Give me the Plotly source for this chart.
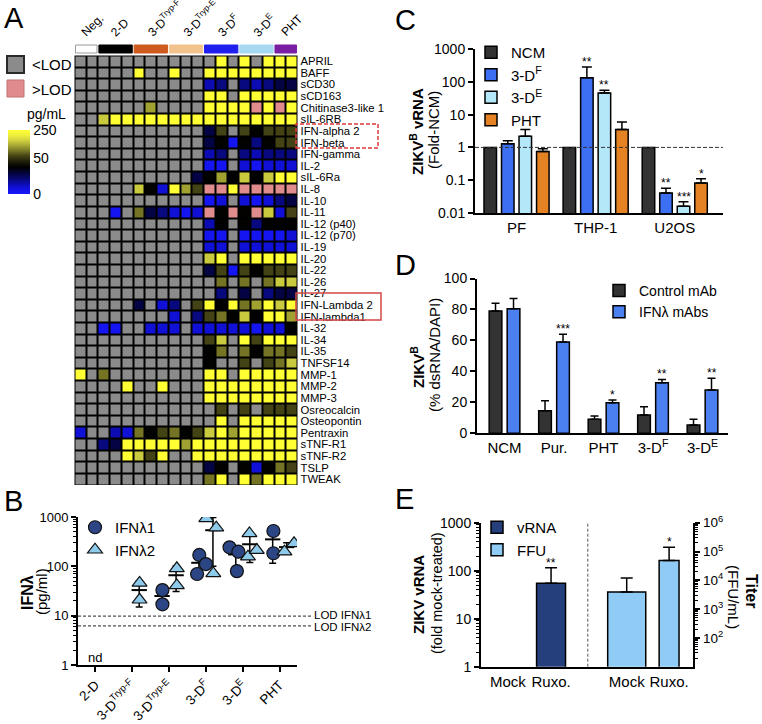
import numpy as np
import plotly.graph_objects as go

W, H = 762, 724
FONT = "Liberation Sans, Arial, Helvetica, sans-serif"


def fx(px):
    return px / W


def fy(py):
    return 1 - py / H


# ---------------- Panel A : cytokine heat map ----------------
heat_rows = ["APRIL", "BAFF", "sCD30", "sCD163", "Chitinase3-like 1", "sIL-6RB",
             "IFN-alpha 2", "IFN-beta", "IFN-gamma", "IL-2", "sIL-6Ra", "IL-8",
             "IL-10", "IL-11", "IL-12 (p40)", "IL-12 (p70)", "IL-19", "IL-20",
             "IL-22", "IL-26", "IL-27", "IFN-Lambda 2", "IFN-lambda1", "IL-32",
             "IL-34", "IL-35", "TNFSF14", "MMP-1", "MMP-2", "MMP-3", "Osreocalcin",
             "Osteopontin", "Pentraxin", "sTNF-R1", "sTNF-R2", "TSLP", "TWEAK"]
# L = <LOD, H = >LOD, other letters = concentration level (see level_pgml)
heat_codes = [
    "LLLLLLLLLLL" + "LYLYLYYY",
    "LLLLLYLLYLL" + "YYYYYYYY",
    "LLLLLLLLLLL" + "cnLncnmm",
    "LLLLLLLLLLL" + "YYLYYYYY",
    "LLLLLLuLLLL" + "YYYYHYHY",
    "LLyYYYYYYYY" + "YYYYYYYY",
    "LLLLLLLLLLL" + "mdLdkddd",
    "LLLLLLLLLLL" + "mkBknkdd",
    "LLLLLLLLLLL" + "cnLncnnn",
    "LLLLLLLLLLL" + "BBLbBbbb",
    "LLLLLLLLLLm" + "kukykyYY",
    "LLLLLykbYud" + "HHYHHHHH",
    "LLLLLLLLLLL" + "BbLbBbnm",
    "LLLBLomnbBb" + "HkHkHybd",
    "LLLLLLLLLLL" + "ckLknkkk",
    "LLLLLLLLLLL" + "BBLBBBBb",
    "LLLLLLLLLLL" + "bbLbbbbb",
    "LLLLLLLLLLL" + "yYLYYYYY",
    "LLLLLLLLLLL" + "mdBdkddd",
    "LLLLLLLLLLL" + "LoLoLoyy",
    "LLLLLLLLLLL" + "LnLmLnmm",
    "LLLLLmLbnLd" + "YkYouYyY",
    "LLLLLLLLbLn" + "dokykYYu",
    "LLBBLLbbbLb" + "bbbbBbbk",
    "LLLLLLLLLLL" + "dyLYdYYY",
    "LLLLLLLLLLL" + "koLokood",
    "LLLLLLLLLLL" + "kLLdLdoy",
    "YLoLLLLLLLL" + "YYLYYYYY",
    "LLLLYLLYLLL" + "YYYYYYYY",
    "LLLLLLLLLLL" + "YYYYYYYY",
    "LLLLLLLLLLL" + "LdLdLddd",
    "LLLLLLLLLLL" + "LYLYYYYY",
    "bLLcbokdokd" + "yYuYYYYY",
    "LLnmYYYYYuY" + "YYYYYYYY",
    "LLLLYydYLLY" + "YYYYYYYY",
    "LLLLLLLLLLL" + "mkLkbkod",
    "LLLLLLLLLLL" + "oYLYoYYY",
]
level_pgml = {"B": 3, "b": 9, "c": 14, "n": 20, "m": 28, "k": 38,
              "d": 65, "o": 100, "u": 135, "y": 170, "Y": 250}
heat_groups = ["Neg.", "2-D", "3-D<sup>Tryp-F</sup>", "3-D<sup>Tryp-E</sup>",
               "3-D<sup>F</sup>", "3-D<sup>E</sup>", "PHT"]
heat_group_sizes = [2, 3, 3, 3, 3, 3, 2]
cbar_ticks_pgml = [0, 50, 250]

# ---------------- Panel B : IFN-lambda ----------------
b_categories = ["2-D", "3-D<sup>Tryp-F</sup>", "3-D<sup>Tryp-E</sup>",
                "3-D<sup>F</sup>", "3-D<sup>E</sup>", "PHT"]
l1_cat = [2, 2, 3, 3, 3, 4, 4, 4, 5, 5]
l1_vals = [33, 17, 70, 170, 111, 243, 198, 80, 520, 184]
l2_cat = [1, 1, 2, 2, 3, 3, 3, 4, 4, 4, 5, 5]
l2_vals = [46, 21, 91, 41, 940, 608, 72, 466, 157, 214, 198, 293]
l1_sum_cat = [2, 3, 4, 5]
l1_mean = [25, 118, 174, 352]
l1_sd = [11, 50, 85, 237]
l2_sum_cat = [1, 2, 3, 4, 5]
l2_mean = [33, 66, 540, 280, 245]
l2_sd = [18, 35, 440, 160, 55]
lod_values = [9.8, 6.2]
lod_labels = ["LOD IFNλ1", "LOD IFNλ2"]
# horizontal scatter of the points inside each category (layout only)
l1_jitter = [-0.18, -0.18, -0.24, -0.18, 0.0, -0.36, -0.12, -0.16, -0.17, -0.17]
l2_jitter = [0.2, 0.2, 0.21, 0.21, 0.01, 0.28, 0.2, 0.18, 0.14, 0.38, 0.13, 0.39]

# ---------------- Panel C : ZIKV vRNA fold ----------------
c_groups = ["PF", "THP-1", "U2OS"]
c_series = ["NCM", "3-D<sup>F</sup>", "3-D<sup>E</sup>", "PHT"]
c_ncm = [1, 1, 1]
c_3df = [1.3, 133, 0.041]
c_3de = [2.2, 45.5, 0.016]
c_pht = [0.75, 3.5, 0.082]
c_3df_err = [0.3, 150, 0.016]
c_3de_err = [1.3, 9.5, 0.006]
c_pht_err = [0.16, 2.4, 0.028]
c_3df_sig = ["", "**", "**"]
c_3de_sig = ["", "**", "***"]
c_pht_sig = ["", "", "*"]

# ---------------- Panel D : IFN-lambda blocking ----------------
d_groups = ["NCM", "Pur.", "PHT", "3-D<sup>F</sup>", "3-D<sup>E</sup>"]
d_series = ["Control mAb", "IFNλ mAbs"]
d_ctrl = [79, 14.6, 9.0, 11.8, 5.4]
d_ctrl_err = [5, 6.5, 2.2, 5.4, 3.6]
d_ifn = [80.5, 59, 19.8, 32.7, 28]
d_ifn_err = [6.5, 5, 1.7, 2.1, 7.5]
d_sig = ["", "***", "*", "**", "**"]

# ---------------- Panel E : Ruxolitinib ----------------
e_labels = ["Mock", "Ruxo."]
e_vrna = [None, 55]
e_vrna_err = [0, 60]
e_ffu = [3900, 49000]
e_ffu_err = [8000, 92000]
e_vrna_sig = ["", "**"]
e_ffu_sig = ["", "*"]

# ---------------- styles ----------------
GREY = "#8b8b8b"
PINK = "#e08c8c"
group_bar_colors = ["#ffffff", "#000000", "#cf5a1f", "#f2c38d", "#2020ee", "#a6d8f2", "#7a1ea4"]
heat_scale = [
    [0.00, "#1818ff"], [0.10, "#1010d8"], [0.16, "#0c0cb0"], [0.23, "#08087a"],
    [0.32, "#040440"], [0.42, "#000000"], [0.50, "#1c1c0a"], [0.60, "#464616"],
    [0.68, "#7a7a26"], [0.76, "#a8a834"], [0.84, "#d2d240"], [0.92, "#f0f03c"],
    [1.00, "#ffff33"],
]
C_COLORS = ["#333333", "#3d6ff2", "#b4e8f8", "#e58224"]
D_COLORS = ["#333333", "#4a80f0"]
E_COLORS = ["#243f7c", "#8fcbf4"]
L1_COLOR = "#2c4584"
L2_COLOR = "#8ecbea"


def pg_to_t(v):
    return float(np.interp(v, [0, 50, 250], [0, 0.56, 1]))


def minor_log(lo, hi):
    vals = []
    for d in range(lo, hi):
        for m in range(2, 10):
            vals.append(m * 10 ** d)
    return vals


fig = go.Figure()

# ---------- A ----------
n_rows = len(heat_rows)
n_cols = sum(heat_group_sizes)
status_z, value_z = [], []
for code in heat_codes:
    srow, vrow = [], []
    for ch in code:
        if ch == "L":
            srow.append(0)
            vrow.append(None)
        elif ch == "H":
            srow.append(1)
            vrow.append(None)
        else:
            srow.append(None)
            vrow.append(pg_to_t(level_pgml[ch]))
    status_z.append(srow)
    value_z.append(vrow)

cols = list(range(n_cols))
rows = list(range(n_rows))
fig.add_trace(go.Heatmap(
    x=cols, y=rows, z=status_z, xaxis="x", yaxis="y",
    colorscale=[[0, GREY], [0.5, GREY], [0.5, PINK], [1, PINK]],
    zmin=0, zmax=1, showscale=False, xgap=2, ygap=2, hoverinfo="skip"))
fig.add_trace(go.Heatmap(
    x=cols, y=rows, z=value_z, xaxis="x", yaxis="y",
    colorscale=heat_scale, zmin=0, zmax=1, xgap=2, ygap=2, hoverinfo="skip",
    colorbar=dict(x=fx(8), xanchor="left", y=fy(162), yanchor="middle",
                  len=64, lenmode="pixels", thickness=22, thicknessmode="pixels",
                  xpad=0, ypad=0, outlinewidth=0, ticks="",
                  tickvals=[pg_to_t(v) for v in cbar_ticks_pgml],
                  ticktext=[str(v) for v in cbar_ticks_pgml],
                  tickfont=dict(size=14, color="black", family=FONT))))

shapes = []
annotations = []
# black grid background
shapes.append(dict(type="rect", xref="x", yref="y", x0=-0.55, x1=n_cols - 0.45,
                   y0=-0.55, y1=n_rows - 0.45, fillcolor="black",
                   line=dict(width=0), layer="below"))
# group colour bars + labels
start = 0
for name, size, col in zip(heat_groups, heat_group_sizes, group_bar_colors):
    x0 = start - 0.5 + 0.08
    x1 = start + size - 0.5 - 0.08
    shapes.append(dict(type="rect", xref="x", yref="paper", x0=x0, x1=x1,
                       y0=fy(53), y1=fy(45), fillcolor=col,
                       line=dict(color="#9a9a9a" if col == "#ffffff" else col, width=1)))
    center = start + (size - 1) / 2
    annotations.append(dict(text=name, xref="x", yref="paper", x=center - 0.85,
                            y=fy(42), xanchor="left", yanchor="bottom", textangle=-45,
                            showarrow=False, font=dict(size=12)))
    start += size

# red boxes around IFN rows
shapes.append(dict(type="rect", xref="paper", yref="paper", x0=fx(296), x1=fx(378),
                   y0=fy(148), y1=fy(124), line=dict(color="#e03a3a", width=1.5, dash="4px,2px")))
shapes.append(dict(type="rect", xref="paper", yref="paper", x0=fx(296), x1=fx(381),
                   y0=fy(320), y1=fy(293), line=dict(color="#d24848", width=1.5)))

# A legend
shapes.append(dict(type="rect", xref="paper", yref="paper", x0=fx(7), x1=fx(24),
                   y0=fy(73), y1=fy(56), fillcolor=GREY, line=dict(color="#2a2a2a", width=2)))
shapes.append(dict(type="rect", xref="paper", yref="paper", x0=fx(7), x1=fx(24),
                   y0=fy(97), y1=fy(80), fillcolor=PINK, line=dict(color="#c27070", width=1)))
annotations += [
    dict(text="&lt;LOD", xref="paper", yref="paper", x=fx(30), y=fy(65),
         xanchor="left", yanchor="middle", showarrow=False, font=dict(size=15)),
    dict(text="&gt;LOD", xref="paper", yref="paper", x=fx(30), y=fy(89),
         xanchor="left", yanchor="middle", showarrow=False, font=dict(size=15)),
    dict(text="pg/mL", xref="paper", yref="paper", x=fx(46), y=fy(114),
         xanchor="center", yanchor="middle", showarrow=False, font=dict(size=14)),
]

# ---------- B ----------
fig.add_trace(go.Scatter(
    x=[c - 0.19 for c in l1_sum_cat], y=l1_mean, xaxis="x2", yaxis="y2", mode="markers",
    showlegend=False, hoverinfo="skip",
    marker=dict(symbol="line-ew", size=11, line=dict(color="black", width=2)),
    error_y=dict(type="data", array=l1_sd, color="black", thickness=1.5, width=3.5)))
fig.add_trace(go.Scatter(
    x=[c + 0.19 for c in l2_sum_cat], y=l2_mean, xaxis="x2", yaxis="y2", mode="markers",
    showlegend=False, hoverinfo="skip",
    marker=dict(symbol="line-ew", size=11, line=dict(color="black", width=2)),
    error_y=dict(type="data", array=l2_sd, color="black", thickness=1.5, width=3.5)))
fig.add_trace(go.Scatter(
    x=[c + j for c, j in zip(l1_cat, l1_jitter)], y=l1_vals, xaxis="x2", yaxis="y2",
    mode="markers", name="IFNλ1", legend="legend",
    marker=dict(symbol="circle", size=13, color=L1_COLOR, line=dict(color="#111111", width=1.2))))
fig.add_trace(go.Scatter(
    x=[c + j for c, j in zip(l2_cat, l2_jitter)], y=l2_vals, xaxis="x2", yaxis="y2",
    mode="markers", name="IFNλ2", legend="legend",
    marker=dict(symbol="triangle-up", size=13, color=L2_COLOR, line=dict(color="#111111", width=1.2))))

for v, lab, ys in zip(lod_values, lod_labels, [1.5, -1.5]):
    shapes.append(dict(type="line", xref="paper", yref="y2", x0=fx(78), x1=fx(311),
                       y0=v, y1=v, line=dict(color="#222222", width=1, dash="3px,2px")))
    annotations.append(dict(text=lab, xref="paper", yref="y2", x=fx(312), y=np.log10(v),
                            xanchor="left", yanchor="middle", showarrow=False, yshift=ys,
                            font=dict(size=11.5)))
annotations.append(dict(text="nd", xref="x2", yref="paper", x=0, y=fy(657),
                        xanchor="center", yanchor="middle", showarrow=False, font=dict(size=13)))

# ---------- C ----------
c_step = 17.5 / 79
c_width = 12.5 / 79
c_vals = [c_ncm, c_3df, c_3de, c_pht]
c_errs = [None, c_3df_err, c_3de_err, c_pht_err]
c_sigs = [None, c_3df_sig, c_3de_sig, c_pht_sig]
for k, (name, vals, errs, sigs, col) in enumerate(zip(c_series, c_vals, c_errs, c_sigs, C_COLORS)):
    xs = [i + (k - 1.5) * c_step for i in range(len(c_groups))]
    tr = dict(x=xs, y=vals, xaxis="x3", yaxis="y3", name=name, legend="legend2",
              width=c_width, marker=dict(color=col, line=dict(color="black", width=1.5)),
              hoverinfo="skip")
    if errs is not None:
        tr["error_y"] = dict(type="data", array=errs, arrayminus=[0] * len(errs),
                             symmetric=False, color="black", thickness=1.5, width=5)
    fig.add_trace(go.Bar(**tr))
    if sigs is not None:
        for x, v, e, s in zip(xs, vals, errs, sigs):
            if s:
                annotations.append(dict(text=s, xref="x3", yref="y3", x=x, y=np.log10(v + e),
                                        yanchor="bottom", showarrow=False, yshift=-4,
                                        font=dict(size=12)))
shapes.append(dict(type="line", xref="x3 domain", yref="y3", x0=0, x1=1, y0=1, y1=1,
                   line=dict(color="#333333", width=1, dash="4px,2px")))

# ---------- D ----------
d_off = 9 / 49.5
d_width = 12.7 / 49.5
for k, (name, vals, errs, col) in enumerate(zip(d_series, [d_ctrl, d_ifn], [d_ctrl_err, d_ifn_err], D_COLORS)):
    xs = [i + (-1 if k == 0 else 1) * d_off for i in range(len(d_groups))]
    fig.add_trace(go.Bar(
        x=xs, y=vals, xaxis="x4", yaxis="y4", name=name, legend="legend3",
        width=d_width, marker=dict(color=col, line=dict(color="black", width=1.5)),
        hoverinfo="skip",
        error_y=dict(type="data", array=errs, arrayminus=[0] * len(errs), symmetric=False,
                     color="black", thickness=1.5, width=4)))
    if k == 1:
        for x, v, e, s in zip(xs, vals, errs, d_sig):
            if s:
                annotations.append(dict(text=s, xref="x4", yref="y4", x=x, y=v + e,
                                        yanchor="bottom", showarrow=False, yshift=-4,
                                        font=dict(size=12)))

# ---------- E ----------
e_slots_vrna = [0, 1]
e_slots_ffu = [2.75, 3.73]
e_width_vrna = [0.67, 0.67]
e_width_ffu = [0.88, 0.46]
fig.add_trace(go.Bar(
    x=e_slots_vrna, y=e_vrna, xaxis="x5", yaxis="y5", name="vRNA", legend="legend4",
    width=e_width_vrna, marker=dict(color=E_COLORS[0], line=dict(color="black", width=1.5)),
    hoverinfo="skip",
    error_y=dict(type="data", array=e_vrna_err, arrayminus=[0, 0], symmetric=False,
                 color="black", thickness=1.5, width=6)))
fig.add_trace(go.Bar(
    x=e_slots_ffu, y=e_ffu, xaxis="x5", yaxis="y6", name="FFU", legend="legend4",
    width=e_width_ffu, marker=dict(color=E_COLORS[1], line=dict(color="black", width=1.5)),
    hoverinfo="skip",
    error_y=dict(type="data", array=e_ffu_err, arrayminus=[0, 0], symmetric=False,
                 color="black", thickness=1.5, width=6)))
for x, v, e, s in zip(e_slots_vrna, e_vrna, e_vrna_err, e_vrna_sig):
    if s:
        annotations.append(dict(text=s, xref="x5", yref="y5", x=x, y=np.log10(v + e),
                                yanchor="bottom", showarrow=False, yshift=-4, font=dict(size=12)))
for x, v, e, s in zip(e_slots_ffu, e_ffu, e_ffu_err, e_ffu_sig):
    if s:
        annotations.append(dict(text=s, xref="x5", yref="y6", x=x, y=np.log10(v + e),
                                yanchor="bottom", showarrow=False, yshift=-4, font=dict(size=12)))
shapes.append(dict(type="line", xref="x5", yref="y5 domain", x0=1.85, x1=1.85, y0=0, y1=1,
                   line=dict(color="#555555", width=1, dash="3px,2px")))


# ---------- titles / letters ----------
def title(text, x, y, size=15, angle=-90):
    annotations.append(dict(text=text, xref="paper", yref="paper", x=fx(x), y=fy(y),
                            xanchor="center", yanchor="middle", textangle=angle,
                            showarrow=False, font=dict(size=size)))


title("<b>IFNλ</b>", 27, 593, 16)
title("(pg/ml)", 41, 592, 15)
title("<b>ZIKV<sup>B</sup> vRNA</b>", 417, 132, 15)
title("(Fold-NCM)", 433, 130, 15)
title("<b>ZIKV<sup>B</sup></b>", 418, 367, 15)
title("(% dsRNA/DAPI)", 434, 355, 15)
title("<b>ZIKV vRNA</b>", 418, 594, 15)
title("(fold mock-treated)", 437, 593, 14.5)
title("<b>Titer</b>", 752, 591, 16, 90)
title("(FFU/mL)", 734, 597, 15, 90)

for letter, x, y in [("A", 2, 18), ("B", 2, 501), ("C", 393, 20), ("D", 393, 265), ("E", 393, 499)]:
    annotations.append(dict(text=letter, xref="paper", yref="paper", x=fx(x), y=fy(y),
                            xanchor="left", yanchor="middle", showarrow=False,
                            font=dict(size=29)))

# ---------- axes ----------
base_axis = dict(showline=True, linecolor="black", linewidth=2, ticks="outside",
                 tickcolor="black", tickwidth=1.5, ticklen=5, showgrid=False,
                 zeroline=False, automargin=False, tickfont=dict(size=14, color="black"))
minor_style = dict(ticks="outside", ticklen=3, tickwidth=1, tickcolor="black", tickmode="array")

layout_axes = dict(
    xaxis=dict(domain=[fx(74.5), fx(297.5)], anchor="y", range=[-0.5, n_cols - 0.5],
               showticklabels=False, showline=False, showgrid=False, zeroline=False, ticks="",
               automargin=False),
    yaxis=dict(domain=[fy(485), fy(55.5)], anchor="x", range=[n_rows - 0.5, -0.5],
               side="right", tickmode="array", tickvals=rows, ticktext=heat_rows,
               tickfont=dict(size=11.3, color="black"), ticks="", showline=False,
               showgrid=False, zeroline=False, ticklabelstandoff=2, automargin=False),
    xaxis2=dict(base_axis, domain=[fx(78), fx(297)], anchor="y2", range=[-0.47, 5.47],
                tickmode="array", tickvals=list(range(len(b_categories))), ticktext=b_categories,
                tickangle=-45, tickfont=dict(size=13.5, color="black")),
    yaxis2=dict(base_axis, domain=[fy(665), fy(517)], anchor="x2", type="log", range=[0, 3],
                tickmode="array", tickvals=[1, 10, 100, 1000], ticktext=["1", "10", "100", "1000"],
                tickfont=dict(size=13, color="black"),
                minor=dict(minor_style, tickvals=minor_log(0, 3))),
    xaxis3=dict(base_axis, domain=[fx(475), fx(723)], anchor="y3", range=[-0.525, 2.61],
                tickmode="array", tickvals=list(range(len(c_groups))), ticktext=c_groups,
                ticks="", tickfont=dict(size=15, color="black")),
    yaxis3=dict(base_axis, domain=[fy(213), fy(49)], anchor="x3", type="log", range=[-2, 3],
                tickmode="array", tickvals=[0.01, 0.1, 1, 10, 100, 1000],
                ticktext=["0.01", "0.1", "1", "10", "100", "1000"]),
    xaxis4=dict(base_axis, domain=[fx(477), fx(728)], anchor="y4", range=[-0.556, 4.515],
                tickmode="array", tickvals=list(range(len(d_groups))), ticktext=d_groups,
                ticks="", tickfont=dict(size=15, color="black")),
    yaxis4=dict(base_axis, domain=[fy(433.3), fy(278.5)], anchor="x4", range=[0, 100],
                tickmode="array", tickvals=[0, 20, 40, 60, 80, 100]),
    xaxis5=dict(base_axis, domain=[fx(481), fx(693.3)], anchor="y5", range=[-0.62, 4.29],
                tickmode="array", tickvals=e_slots_vrna + e_slots_ffu,
                ticktext=e_labels + e_labels, ticks="", tickfont=dict(size=15, color="black")),
    yaxis5=dict(base_axis, domain=[fy(666.7), fy(522.7)], anchor="x5", type="log", range=[0, 3],
                tickmode="array", tickvals=[1, 10, 100, 1000], ticktext=["1", "10", "100", "1000"],
                minor=dict(minor_style, tickvals=minor_log(0, 3))),
    yaxis6=dict(base_axis, anchor="x5", overlaying="y5", side="right", type="log", range=[1, 6],
                tickmode="array", tickvals=[1e2, 1e3, 1e4, 1e5, 1e6],
                ticktext=["10<sup>2</sup>", "10<sup>3</sup>", "10<sup>4</sup>",
                          "10<sup>5</sup>", "10<sup>6</sup>"],
                tickfont=dict(size=13.5, color="black"),
                minor=dict(minor_style, tickvals=minor_log(1, 6))),
)

legend_style = dict(xanchor="left", yanchor="top", bgcolor="rgba(0,0,0,0)",
                    borderwidth=0, font=dict(size=15, color="black"), tracegroupgap=0)

fig.update_layout(
    template="none",
    width=W, height=H, margin=dict(l=0, r=0, t=0, b=0, pad=0, autoexpand=False),
    paper_bgcolor="white", plot_bgcolor="white",
    font=dict(family=FONT, color="black"),
    barmode="overlay", showlegend=True,
    legend=dict(legend_style, x=fx(75), y=fy(511)),
    legend2=dict(legend_style, x=fx(471), y=fy(36)),
    legend3=dict(legend_style, x=fx(599), y=fy(275), font=dict(size=14, color="black")),
    legend4=dict(legend_style, x=fx(477), y=fy(511)),
    shapes=shapes, annotations=annotations,
    **layout_axes,
)

fig.write_html("out.html",
               config={"displayModeBar": False},
               post_script="document.body.style.margin='0px';"
                           "document.body.style.overflow='hidden';")
